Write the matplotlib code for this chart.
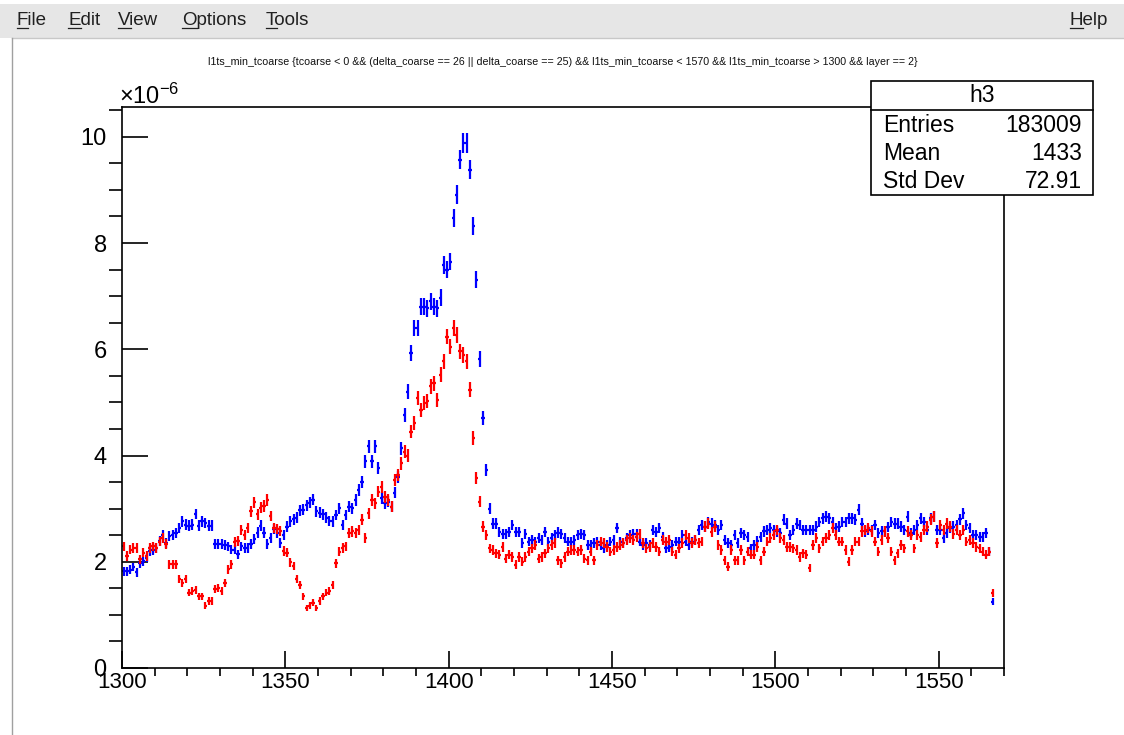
import numpy as np
import matplotlib
matplotlib.use('Agg')
import matplotlib.pyplot as plt
from matplotlib.patches import Rectangle
from matplotlib.lines import Line2D
from matplotlib.ticker import MultipleLocator

plt.rcParams['font.family'] = ['Liberation Sans', 'DejaVu Sans']
plt.rcParams['mathtext.fontset'] = 'custom'
plt.rcParams['mathtext.rm'] = 'Liberation Sans'
plt.rcParams['mathtext.it'] = 'Liberation Sans:italic'

# histogram: 1 unit bins starting at 1300, values in units of 1e-6
bin_lo = 1300
bin_w = 1

blue_vals = [
    # 1300-1327
    1.82, 1.82, 1.85, 1.90, 1.80, 1.97, 2.01, 2.08, 2.20, 2.22, 2.26, 2.39, 2.51, 2.36,
    2.48, 2.51, 2.54, 2.64, 2.76, 2.70, 2.68, 2.70, 2.90, 2.68, 2.76, 2.73, 2.68, 2.68,
    # 1328-1363
    2.33, 2.34, 2.34, 2.31, 2.29, 2.23, 2.23, 2.14, 2.29, 2.26, 2.26, 2.33, 2.42, 2.55,
    2.68, 2.55, 2.33, 2.45, 2.61, 2.55, 2.36, 2.51, 2.66, 2.76, 2.80, 2.83, 2.97, 2.98,
    3.06, 3.11, 3.17, 2.95, 2.92, 2.89, 2.83, 2.77,
    # 1364-1384
    2.76, 2.88, 3.01, 2.69, 2.88, 3.04, 3.01, 3.16, 3.35, 3.51, 3.89, 4.17, 3.89, 4.17,
    3.76, 3.20, 3.10, 3.13, 3.04, 3.30, 3.60,
    # 1385-1411 (peak)
    4.14, 4.76, 5.20, 5.93, 6.40, 6.40, 6.80, 6.80, 6.77, 6.90, 6.80, 6.77, 6.97, 7.59,
    7.50, 7.65, 8.47, 8.91, 9.57, 9.89, 9.89, 9.38, 8.32, 7.31, 5.82, 4.71, 3.73,
    # 1412-1487
    3.00, 2.72, 2.72, 2.56, 2.53, 2.53, 2.56, 2.69, 2.56, 2.56,
    2.35, 2.53, 2.38, 2.41, 2.38, 2.44, 2.41, 2.56, 2.38, 2.45,
    2.50, 2.55, 2.53, 2.44, 2.38, 2.38, 2.41, 2.50, 2.53, 2.50,
    2.31, 2.31, 2.35, 2.38, 2.31, 2.25, 2.31, 2.38, 2.41, 2.63,
    2.38, 2.35, 2.44, 2.50, 2.53, 2.53, 2.38, 2.31, 2.35, 2.31,
    2.60, 2.56, 2.63, 2.47, 2.25, 2.28, 2.31, 2.38, 2.38, 2.50,
    2.38, 2.31, 2.38, 2.41, 2.60, 2.69, 2.66, 2.75, 2.72, 2.69,
    2.60, 2.69, 2.41, 2.35, 2.31, 2.50,
    # 1488-1566
    2.35, 2.54, 2.50, 2.47, 2.25, 2.31, 2.40, 2.47, 2.57, 2.60,
    2.63, 2.60, 2.57, 2.54, 2.79, 2.72, 2.50, 2.60, 2.72, 2.69,
    2.60, 2.60, 2.60, 2.60, 2.66, 2.75, 2.82, 2.85, 2.82, 2.75,
    2.63, 2.66, 2.75, 2.75, 2.82, 2.82, 2.79, 2.98, 2.72, 2.57,
    2.60, 2.60, 2.69, 2.54, 2.57, 2.57, 2.65, 2.75, 2.72, 2.72,
    2.66, 2.60, 2.85, 2.54, 2.60, 2.69, 2.82, 2.75, 2.60, 2.82,
    2.85, 2.60, 2.60, 2.44, 2.54, 2.63, 2.66, 2.69, 2.80, 2.91,
    2.69, 2.63, 2.50, 2.50, 2.47, 2.47, 2.54, 2.19, 1.25,
]

red_vals = [
    # 1300-1313
    2.29, 2.11, 2.23, 2.26, 2.26, 2.05, 2.17, 2.11, 2.26, 2.29, 2.26, 2.38, 2.45, 2.33,
    # 1314-1364
    1.95, 1.95, 1.95, 1.67, 1.60, 1.68, 1.42, 1.45, 1.47, 1.35, 1.35, 1.17, 1.26, 1.26,
    1.48, 1.51, 1.45, 1.60, 1.86, 1.95, 2.37, 2.39, 2.60, 2.51, 2.64, 2.95, 3.12, 2.89,
    3.02, 3.05, 3.16, 2.86, 2.64, 2.61, 2.58, 2.20, 2.17, 1.99, 1.92, 1.68, 1.57, 1.35,
    1.13, 1.17, 1.23, 1.13, 1.26, 1.35, 1.42, 1.45, 1.57,
    # 1365-1411
    1.97, 2.19, 2.26, 2.29, 2.54, 2.57, 2.54, 2.60, 2.79, 2.44, 2.91, 3.16, 3.10, 3.32,
    3.41, 3.22, 3.16, 3.04, 3.54, 3.63, 3.85, 4.07, 4.00, 4.45, 4.61, 5.08, 4.86, 4.99,
    5.02, 5.30, 5.36, 5.05, 5.52, 5.77, 6.24, 6.05, 6.40, 6.27, 5.96, 5.89, 5.77, 5.24,
    4.33, 3.57, 3.13, 2.66, 2.50,
    # 1412-1487
    2.25, 2.22, 2.16, 2.13, 2.28, 2.06, 2.13, 2.09, 1.94, 2.09,
    2.00, 2.09, 2.19, 2.25, 2.31, 2.06, 2.09, 2.16, 2.25, 2.31,
    2.35, 2.03, 1.97, 2.09, 2.19, 2.22, 2.22, 2.19, 2.22, 2.06,
    2.03, 2.19, 2.03, 2.31, 2.38, 2.35, 2.28, 2.19, 2.22, 2.28,
    2.31, 2.35, 2.41, 2.44, 2.41, 2.47, 2.53, 2.35, 2.25, 2.28,
    2.35, 2.28, 2.19, 2.41, 2.38, 2.41, 2.19, 2.13, 2.25, 2.35,
    2.50, 2.44, 2.35, 2.41, 2.35, 2.38, 2.66, 2.72, 2.56, 2.66,
    2.31, 2.22, 2.03, 1.91, 2.22, 2.03,
    # 1488-1566
    2.03, 2.22, 2.03, 2.19, 2.13, 2.13, 2.28, 2.03, 2.19, 2.38,
    2.44, 2.50, 2.60, 2.44, 2.41, 2.28, 2.28, 2.25, 2.22, 2.09,
    2.16, 2.13, 1.88, 2.31, 2.44, 2.25, 2.38, 2.44, 2.50, 2.63,
    2.50, 2.38, 2.38, 2.22, 2.00, 2.22, 2.38, 2.38, 2.57, 2.60,
    2.63, 2.57, 2.38, 2.19, 2.41, 2.57, 2.45, 2.19, 2.03, 2.16,
    2.31, 2.25, 2.57, 2.50, 2.25, 2.50, 2.47, 2.60, 2.66, 2.79,
    2.85, 2.35, 2.69, 2.60, 2.72, 2.66, 2.53, 2.60, 2.50, 2.60,
    2.38, 2.41, 2.35, 2.28, 2.25, 2.19, 2.13, 2.19, 1.41,
]

stat_names = ['Entries', 'Mean', 'Std Dev']
stat_values = ['183009', '1433', '72.91']
hist_name = 'h3'
title = ('l1ts_min_tcoarse {tcoarse < 0 && (delta_coarse == 26 || delta_coarse == 25) && '
         'l1ts_min_tcoarse < 1570 && l1ts_min_tcoarse > 1300 && layer == 2}')
menu_left = ['File', 'Edit', 'View', 'Options', 'Tools']
menu_right = 'Help'

W, H = 1124, 735
fig = plt.figure(figsize=(W / 100, H / 100), dpi=100)
fig.patch.set_facecolor('white')


def fx(px):
    return px / W


def fy(py):
    return 1 - py / H


# --- window chrome (menu bar + canvas border)
fig.patches.append(Rectangle((0, fy(38)), 1, 34 / H, transform=fig.transFigure,
                             facecolor='#e6e6e6', edgecolor='none', zorder=0))
fig.lines.append(Line2D([fx(12), 1], [fy(38), fy(38)], transform=fig.transFigure,
                        color='#c8c8c8', lw=1))
fig.lines.append(Line2D([fx(12), fx(12)], [fy(38), 0], transform=fig.transFigure,
                        color='#a0a0a0', lw=1))

renderer = fig.canvas.get_renderer()
menu_kw = dict(fontsize=13.5, color='#202020', va='baseline')


def menu_item(px, word, ha='left'):
    t = fig.text(fx(px), fy(25), word, ha=ha, **menu_kw)
    bb = t.get_window_extent(renderer)
    tmp = fig.text(0, 0, word[0], **menu_kw)
    w0 = tmp.get_window_extent(renderer).width
    tmp.remove()
    x0 = bb.x0 / W
    fig.lines.append(Line2D([x0, x0 + w0 / W], [fy(28), fy(28)],
                            transform=fig.transFigure, color='#202020', lw=0.9))


for px, word in zip([17, 68, 118, 182, 266], menu_left):
    menu_item(px, word)
menu_item(1108, menu_right, ha='right')

# --- title
fig.text(fx(563), fy(62), title, ha='center', va='center', fontsize=7.7, color='#111111')

# --- main frame
ax = fig.add_axes([fx(122), fy(668), (1004 - 122) / W, (668 - 107) / H])
centers = bin_lo + bin_w / 2 + np.arange(len(blue_vals)) * bin_w
blue = np.array(blue_vals)
red = np.array(red_vals)
ax.errorbar(centers, blue, xerr=bin_w / 2, yerr=0.06 * np.sqrt(blue), fmt='none',
            ecolor='#0000ff', elinewidth=1.6, capsize=0)
ax.errorbar(centers[:len(red)], red, xerr=bin_w / 2, yerr=0.06 * np.sqrt(red), fmt='none',
            ecolor='#ff0000', elinewidth=1.6, capsize=0)

ax.set_xlim(1300, 1570)
ax.set_ylim(0, 10.56)
ax.xaxis.set_major_locator(MultipleLocator(50))
ax.xaxis.set_minor_locator(MultipleLocator(10))
ax.yaxis.set_major_locator(MultipleLocator(2))
ax.yaxis.set_minor_locator(MultipleLocator(0.5))
ax.tick_params(direction='in', top=False, right=False, width=1.2, colors='black')
ax.tick_params(axis='y', which='major', length=18.7, pad=11, labelsize=17)
ax.tick_params(axis='y', which='minor', length=9.4, width=1.2)
ax.tick_params(axis='x', which='major', length=12.2, pad=3, labelsize=16)
ax.tick_params(axis='x', which='minor', length=6.1, width=1.2)
for s in ax.spines.values():
    s.set_linewidth(1.2)

fig.text(fx(119), fy(104), r'$\times10^{-6}$', fontsize=17, va='baseline', ha='left')

# --- stats box
bx0, bx1, by0, by1, bsep = 871, 1093, 81, 195, 110
fig.patches.append(Rectangle((fx(bx0), fy(by1)), (bx1 - bx0) / W, (by1 - by0) / H,
                             transform=fig.transFigure, facecolor='white',
                             edgecolor='black', lw=1.2, zorder=2))
fig.lines.append(Line2D([fx(bx0), fx(bx1)], [fy(bsep), fy(bsep)], transform=fig.transFigure,
                        color='black', lw=1.2, zorder=3))
fig.text(fx((bx0 + bx1) / 2), fy(96), hist_name, ha='center', va='center', fontsize=16.5, zorder=4)
for i, (name, val) in enumerate(zip(stat_names, stat_values)):
    yy = fy(126 + 28 * i)
    fig.text(fx(883), yy, name, ha='left', va='center', fontsize=16.5, zorder=4)
    fig.text(fx(1082), yy, val, ha='right', va='center', fontsize=16.5, zorder=4)

fig.savefig('out.png', dpi=100)
